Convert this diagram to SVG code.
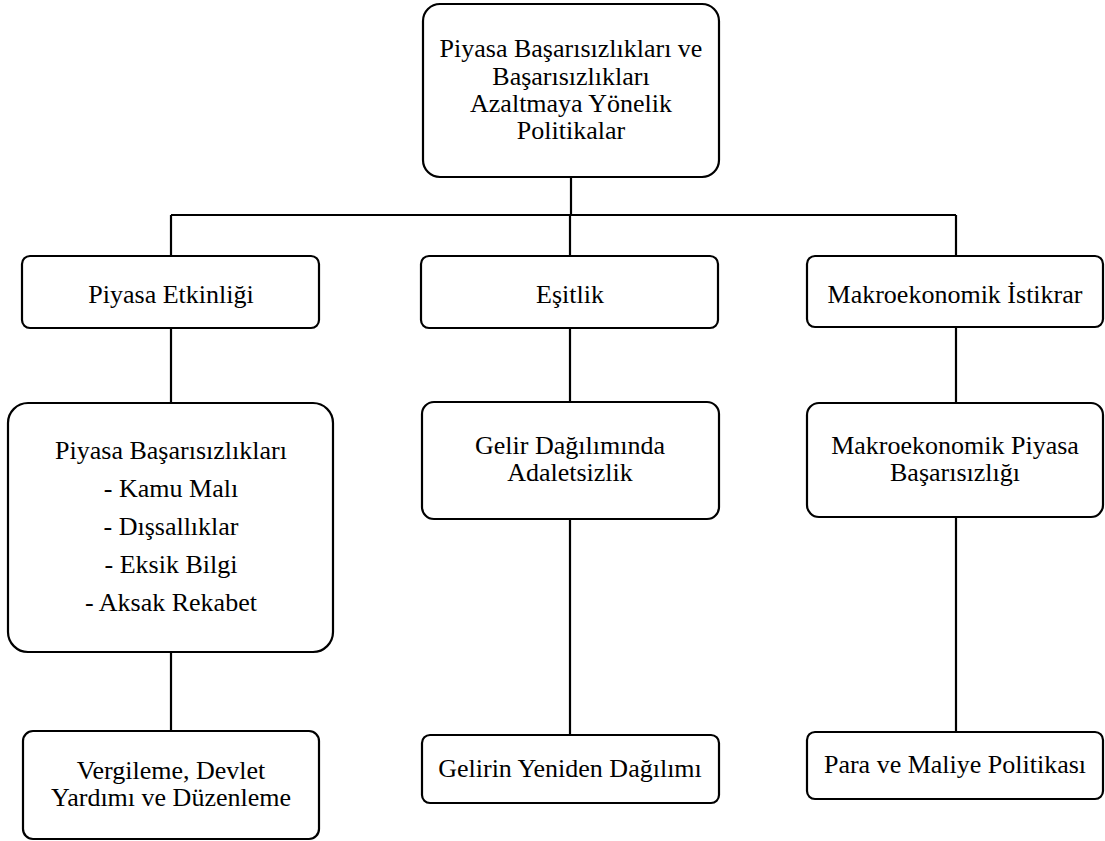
<svg xmlns="http://www.w3.org/2000/svg" width="1105" height="841" viewBox="0 0 1105 841">
<rect width="1105" height="841" fill="#fff"/>
<g id="connectors" stroke="#000" stroke-width="2.2" fill="none">
<path d="M571 177V215 M171 215H956 M171 215V256 M570 215V256 M956 215V256 M171 328V403 M570 328V402 M956 327V403 M171 652V731 M570 519V735 M956 517V732"/>
</g>
<g id="n0">
<rect fill="#fff" stroke="#000" stroke-width="2.2" x="423" y="4" width="296" height="173" rx="17"/>
<text font-family="Liberation Serif" font-size="26" text-anchor="middle" x="571" y="57">Piyasa Başarısızlıkları ve</text>
<text font-family="Liberation Serif" font-size="26" text-anchor="middle" x="571" y="85">Başarısızlıkları</text>
<text font-family="Liberation Serif" font-size="26" text-anchor="middle" x="571" y="112">Azaltmaya Yönelik</text>
<text font-family="Liberation Serif" font-size="26" text-anchor="middle" x="571" y="139">Politikalar</text>
</g>
<g id="n1">
<rect fill="#fff" stroke="#000" stroke-width="2.2" x="22" y="256" width="297" height="72" rx="8"/>
<text font-family="Liberation Serif" font-size="26" text-anchor="middle" x="171" y="303">Piyasa Etkinliği</text>
</g>
<g id="n2">
<rect fill="#fff" stroke="#000" stroke-width="2.2" x="421" y="256" width="297" height="72" rx="8"/>
<text font-family="Liberation Serif" font-size="26" text-anchor="middle" x="570" y="303">Eşitlik</text>
</g>
<g id="n3">
<rect fill="#fff" stroke="#000" stroke-width="2.2" x="807" y="256" width="296" height="71" rx="8"/>
<text font-family="Liberation Serif" font-size="26" text-anchor="middle" x="955" y="303">Makroekonomik İstikrar</text>
</g>
<g id="n4">
<rect fill="#fff" stroke="#000" stroke-width="2.2" x="8" y="403" width="325" height="249" rx="20"/>
<text font-family="Liberation Serif" font-size="26" text-anchor="middle" x="171" y="459">Piyasa Başarısızlıkları</text>
<text font-family="Liberation Serif" font-size="26" text-anchor="middle" x="171" y="497">- Kamu Malı</text>
<text font-family="Liberation Serif" font-size="26" text-anchor="middle" x="171" y="535">- Dışsallıklar</text>
<text font-family="Liberation Serif" font-size="26" text-anchor="middle" x="171" y="573">- Eksik Bilgi</text>
<text font-family="Liberation Serif" font-size="26" text-anchor="middle" x="171" y="611">- Aksak Rekabet</text>
</g>
<g id="n5">
<rect fill="#fff" stroke="#000" stroke-width="2.2" x="422" y="402" width="297" height="117" rx="12"/>
<text font-family="Liberation Serif" font-size="26" text-anchor="middle" x="570" y="454">Gelir Dağılımında</text>
<text font-family="Liberation Serif" font-size="26" text-anchor="middle" x="570" y="481">Adaletsizlik</text>
</g>
<g id="n6">
<rect fill="#fff" stroke="#000" stroke-width="2.2" x="807" y="403" width="296" height="114" rx="12"/>
<text font-family="Liberation Serif" font-size="26" text-anchor="middle" x="955" y="454">Makroekonomik Piyasa</text>
<text font-family="Liberation Serif" font-size="26" text-anchor="middle" x="955" y="481">Başarısızlığı</text>
</g>
<g id="n7">
<rect fill="#fff" stroke="#000" stroke-width="2.2" x="23" y="731" width="296" height="108" rx="10"/>
<text font-family="Liberation Serif" font-size="26" text-anchor="middle" x="171" y="779">Vergileme, Devlet</text>
<text font-family="Liberation Serif" font-size="26" text-anchor="middle" x="171" y="806">Yardımı ve Düzenleme</text>
</g>
<g id="n8">
<rect fill="#fff" stroke="#000" stroke-width="2.2" x="422" y="735" width="297" height="68" rx="8"/>
<text font-family="Liberation Serif" font-size="26" text-anchor="middle" x="570" y="777">Gelirin Yeniden Dağılımı</text>
</g>
<g id="n9">
<rect fill="#fff" stroke="#000" stroke-width="2.2" x="807" y="732" width="296" height="67" rx="8"/>
<text font-family="Liberation Serif" font-size="26" text-anchor="middle" x="955" y="773">Para ve Maliye Politikası</text>
</g>
</svg>
